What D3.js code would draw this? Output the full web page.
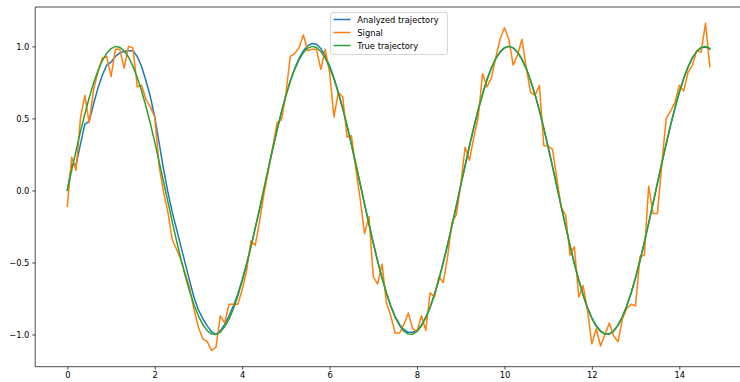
<!DOCTYPE html>
<head>
<meta charset="utf-8">
<style>
body { margin: 0; background: #fff; }
svg { display: block; font-family: "DejaVu Sans", sans-serif; }
.tick text { font-size: 8.33px; fill: #000; }
</style>
</head>
<body>
<script src="https://cdn.jsdelivr.net/npm/d3@7"></script>
<script>
// sample times (0.1 step)
var times = [0.0,0.1,0.2,0.3,0.4,0.5,0.6,0.7,0.8,0.9,1.0,1.1,1.2,1.3,1.4,1.5,1.6,1.7,1.8,1.9,
  2.0,2.1,2.2,2.3,2.4,2.5,2.6,2.7,2.8,2.9,3.0,3.1,3.2,3.3,3.4,3.5,3.6,3.7,3.8,3.9,
  4.0,4.1,4.2,4.3,4.4,4.5,4.6,4.7,4.8,4.9,5.0,5.1,5.2,5.3,5.4,5.5,5.6,5.7,5.8,5.9,
  6.0,6.1,6.2,6.3,6.4,6.5,6.6,6.7,6.8,6.9,7.0,7.1,7.2,7.3,7.4,7.5,7.6,7.7,7.8,7.9,
  8.0,8.1,8.2,8.3,8.4,8.5,8.6,8.7,8.8,8.9,9.0,9.1,9.2,9.3,9.4,9.5,9.6,9.7,9.8,9.9,
  10.0,10.1,10.2,10.3,10.4,10.5,10.6,10.7,10.8,10.9,11.0,11.1,11.2,11.3,11.4,11.5,11.6,11.7,11.8,11.9,
  12.0,12.1,12.2,12.3,12.4,12.5,12.6,12.7,12.8,12.9,13.0,13.1,13.2,13.3,13.4,13.5,13.6,13.7,13.8,13.9,
  14.0,14.1,14.2,14.3,14.4,14.5,14.6,14.7];

var analyzed = [0.00,0.18,0.18,0.32,0.46,0.48,0.60,0.71,0.80,0.87,0.89,0.93,0.955,0.965,0.97,0.97,0.93,0.86,0.76,0.65,
  0.51,0.33,0.15,-0.01,-0.15,-0.27,-0.39,-0.51,-0.63,-0.745,-0.83,-0.89,-0.94,-0.98,-1.00,-0.975,-0.93,-0.87,-0.80,-0.72,
  -0.62,-0.51,-0.39,-0.26,-0.13,0.00,0.15,0.29,0.42,0.545,0.66,0.76,0.845,0.915,0.97,1.005,1.02,1.015,0.985,0.935,
  0.865,0.78,0.68,0.57,0.45,0.32,0.18,0.045,-0.095,-0.23,-0.365,-0.49,-0.605,-0.71,-0.80,-0.875,-0.93,-0.965,-0.985,-0.985,
  -0.97,-0.935,-0.88,-0.81,-0.72,-0.62,-0.50,-0.375,-0.245,-0.105,0.035,0.17,0.31,0.44,0.56,0.67,0.77,0.85,0.915,0.96,
  0.99,1.00,0.99,0.96,0.91,0.845,0.76,0.665,0.555,0.43,0.30,0.165,0.025,-0.11,-0.25,-0.38,-0.51,-0.62,-0.725,-0.815,
  -0.885,-0.94,-0.975,-0.995,-0.995,-0.975,-0.935,-0.875,-0.80,-0.71,-0.605,-0.49,-0.36,-0.225,-0.09,0.05,0.19,0.32,0.45,0.57,
  0.68,0.775,0.855,0.92,0.965,0.99,0.995,0.98];

var signal = [-0.11,0.23,0.14,0.50,0.66,0.47,0.70,0.82,0.92,0.93,0.79,0.98,0.98,0.85,1.00,0.99,0.72,0.73,0.63,0.58,
  0.51,0.17,-0.01,-0.15,-0.34,-0.41,-0.48,-0.58,-0.68,-0.83,-0.95,-1.03,-1.05,-1.11,-1.09,-0.87,-0.92,-0.79,-0.79,-0.79,
  -0.69,-0.56,-0.35,-0.38,-0.21,-0.02,0.14,0.30,0.47,0.49,0.67,0.93,0.95,0.99,1.08,0.97,0.98,0.98,0.84,0.98,
  0.82,0.51,0.68,0.65,0.37,0.38,0.15,-0.06,-0.30,-0.18,-0.60,-0.65,-0.51,-0.78,-0.87,-0.99,-0.99,-0.93,-0.85,-0.96,
  -0.98,-0.87,-0.97,-0.71,-0.74,-0.60,-0.64,-0.46,-0.22,-0.17,0.04,0.30,0.21,0.37,0.51,0.81,0.72,0.78,0.92,1.05,
  1.13,1.05,0.87,0.94,1.05,0.85,0.68,0.66,0.73,0.31,0.31,0.285,0.08,-0.12,-0.17,-0.45,-0.39,-0.74,-0.66,-0.83,
  -1.065,-0.96,-1.08,-1.00,-0.92,-1.01,-1.05,-0.89,-0.82,-0.79,-0.80,-0.46,-0.45,0.03,-0.16,-0.16,0.18,0.50,0.55,0.61,
  0.73,0.69,0.82,0.87,0.97,0.96,1.16,0.86];

var trueTraj = [0.000,0.140,0.276,0.408,0.531,0.644,0.745,0.831,0.900,0.952,0.985,1.000,0.994,0.969,0.925,0.863,0.784,0.690,0.582,0.463,
  0.335,0.200,0.062,-0.078,-0.217,-0.351,-0.478,-0.596,-0.702,-0.795,-0.872,-0.932,-0.973,-0.996,-0.999,-0.983,-0.947,-0.893,-0.821,-0.733,
  -0.631,-0.517,-0.392,-0.260,-0.123,0.017,0.156,0.293,0.423,0.545,0.657,0.756,0.839,0.907,0.957,0.988,1.000,0.992,0.965,0.919,
  0.855,0.774,0.678,0.569,0.448,0.319,0.184,0.045,-0.095,-0.233,-0.367,-0.493,-0.609,-0.714,-0.805,-0.880,-0.937,-0.977,-0.997,-0.998,
  -0.979,-0.941,-0.885,-0.812,-0.722,-0.618,-0.502,-0.377,-0.244,-0.106,0.034,0.173,0.309,0.438,0.559,0.670,0.767,0.849,0.914,0.962,
  0.991,1.000,0.990,0.960,0.912,0.846,0.763,0.665,0.555,0.433,0.303,0.167,0.028,-0.112,-0.249,-0.382,-0.507,-0.623,-0.726,-0.815,
  -0.888,-0.943,-0.980,-0.998,-0.997,-0.976,-0.935,-0.877,-0.801,-0.710,-0.605,-0.488,-0.361,-0.228,-0.090,0.050,0.189,0.324,0.453,0.573,
  0.682,0.777,0.858,0.921,0.966,0.993,1.000,0.987];

var seriesNames = ["Analyzed trajectory", "Signal", "True trajectory"];
var seriesColors = ["#1f77b4", "#ff7f0e", "#2ca02c"];
var seriesValues = [analyzed, signal, trueTraj];

var xTicks = [0, 2, 4, 6, 8, 10, 12, 14];
var yTicks = [-1.0, -0.5, 0.0, 0.5, 1.0];

(function() {
  var W = 740, H = 382,
    x0 = 35.2, x1 = 742, y0 = 7, y1 = 366.7;

  var svg = d3.select("body").append("svg")
    .attr("width", W)
    .attr("height", H);

  var sx = d3.scaleLinear().domain([-0.735, 15.435]).range([x0, x1]);
  var sy = d3.scaleLinear().domain([-1.2235, 1.2735]).range([y1, y0]);

  var line = d3.line()
    .x(function(d, i) { return sx(times[i]); })
    .y(function(d) { return sy(d); });

  var plot = svg.append("g");
  seriesValues.forEach(function(vals, j) {
    plot.append("path")
      .attr("d", line(vals))
      .attr("fill", "none")
      .attr("stroke", seriesColors[j])
      .attr("stroke-width", 1.5)
      .attr("stroke-linejoin", "round")
      .attr("stroke-linecap", "square");
  });

  // spines
  var spines = [[x0, y0, x0, y1], [x0, y1, x1, y1], [x0, y0, x1, y0], [x1, y0, x1, y1]];
  svg.selectAll(".spine").data(spines).enter().append("line")
    .attr("x1", function(d) { return d[0]; })
    .attr("y1", function(d) { return d[1]; })
    .attr("x2", function(d) { return d[2]; })
    .attr("y2", function(d) { return d[3]; })
    .attr("stroke", "#000")
    .attr("stroke-width", 0.7);

  var fmtY = function(v) { return d3.format(".1f")(v).replace("-", "\u2212"); };

  var xAxis = svg.append("g")
    .attr("transform", "translate(0," + y1 + ")")
    .call(d3.axisBottom(sx).tickValues(xTicks).tickFormat(d3.format("d")).tickSize(2.9).tickPadding(2.9).tickSizeOuter(0));
  var yAxis = svg.append("g")
    .attr("transform", "translate(" + x0 + ",0)")
    .call(d3.axisLeft(sy).tickValues(yTicks).tickFormat(fmtY).tickSize(2.9).tickPadding(2.9).tickSizeOuter(0));
  [xAxis, yAxis].forEach(function(a) {
    a.select(".domain").remove();
    a.selectAll(".tick line").attr("stroke", "#000").attr("stroke-width", 0.7);
    a.selectAll(".tick text").attr("font-family", "DejaVu Sans");
  });

  // legend
  var lg = svg.append("g").attr("transform", "translate(330,12)");
  lg.append("rect")
    .attr("x", 0.5).attr("y", 0.5)
    .attr("width", 117).attr("height", 42)
    .attr("rx", 2.5)
    .attr("fill", "#fff").attr("fill-opacity", 0.8)
    .attr("stroke", "#cccccc").attr("stroke-width", 0.8);
  var rows = lg.selectAll(".row").data(seriesNames).enter().append("g")
    .attr("transform", function(d, i) { return "translate(0," + (7.5 + i * 13) + ")"; });
  rows.append("line")
    .attr("x1", 3.5).attr("x2", 20.5).attr("y1", 0).attr("y2", 0)
    .attr("stroke", function(d, i) { return seriesColors[i]; })
    .attr("stroke-width", 1.5);
  rows.append("text")
    .attr("x", 27.3).attr("y", 3)
    .attr("font-size", "8.33px")
    .attr("fill", "#000")
    .text(function(d) { return d; });
})();
</script>
</body>
